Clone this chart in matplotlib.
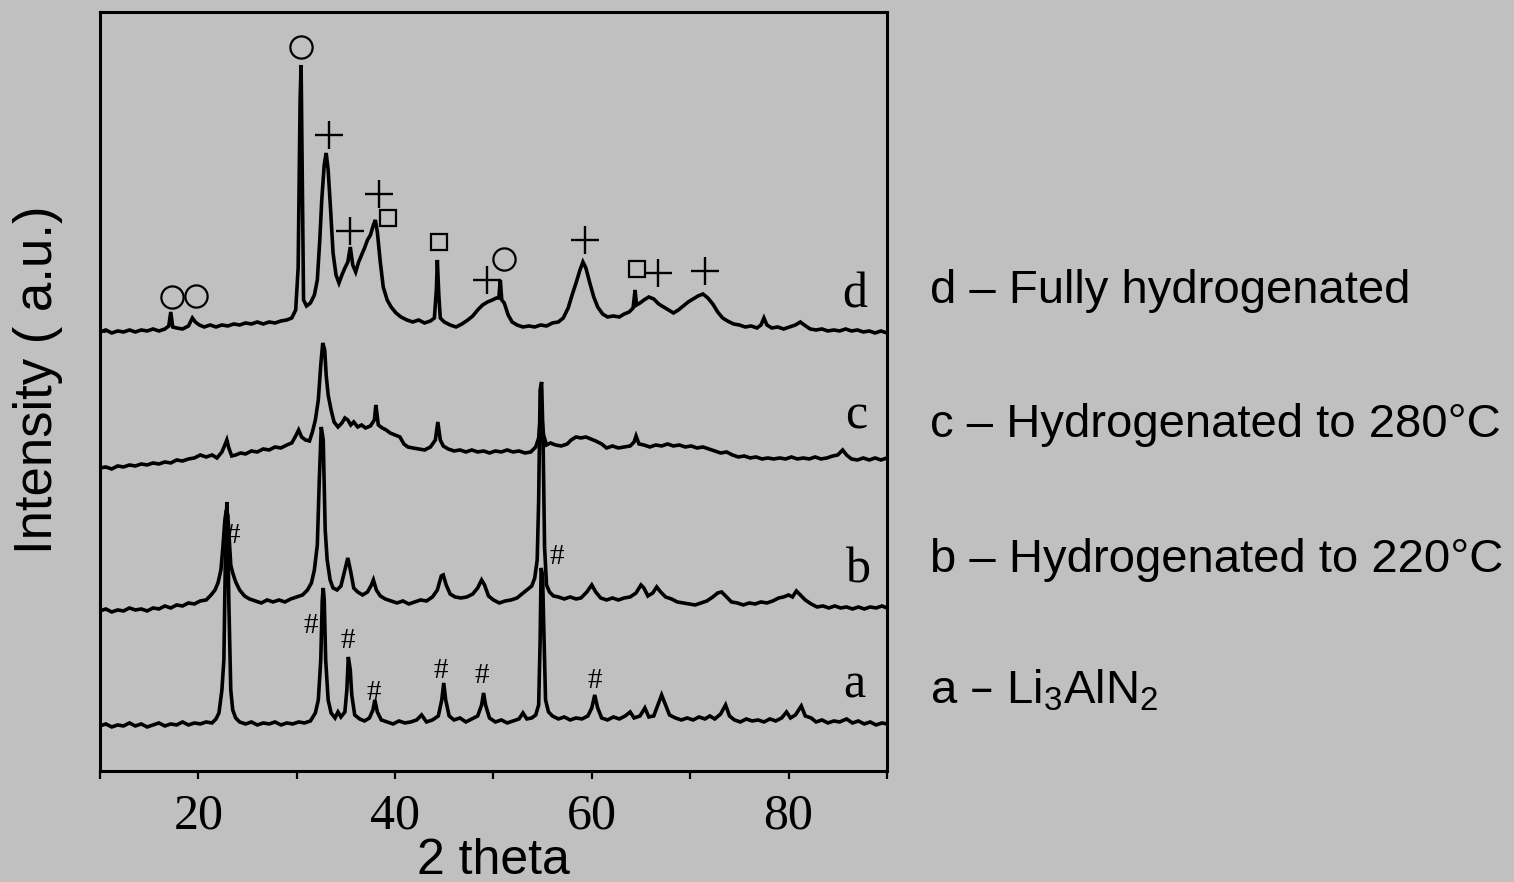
# XRD patterns of Li3AlN2 after hydrogenation
# stacked traces a-d with peak markers

import numpy as np
import matplotlib.pyplot as plt


# a - Li3AlN2
tth_a = [10.0, 10.6, 11.2, 11.8, 12.4, 13.0, 13.6, 14.2, 14.8, 15.4, 16.0, 16.6, 17.2, 17.8, 18.4, 19.0,
         19.6, 20.2, 20.8, 21.4, 21.8, 22.1, 22.4, 22.6, 22.75, 22.9, 23.0, 23.1, 23.3, 23.5, 23.8, 24.2,
         24.8, 25.4, 26.0, 26.6, 27.2, 27.8, 28.4, 29.0, 29.6, 30.2, 30.8, 31.4, 31.9, 32.2, 32.45, 32.6,
         32.7, 32.8, 32.95, 33.2, 33.5, 33.9, 34.2, 34.5, 34.9, 35.1, 35.25, 35.45, 35.6, 35.9, 36.4, 36.9,
         37.4, 37.75, 37.95, 38.2, 38.6, 39.2, 39.8, 40.4, 41.0, 41.6, 42.2, 42.7, 43.2, 43.8, 44.4, 44.75,
         44.95, 45.15, 45.5, 46.0, 46.6, 47.2, 47.8, 48.4, 48.8, 49.0, 49.2, 49.6, 50.2, 50.8, 51.4, 52.0,
         52.6, 53.0, 53.4, 53.9, 54.3, 54.6, 54.75, 54.85, 55.0, 55.1, 55.3, 55.6, 56.0, 56.6, 57.2, 57.8,
         58.4, 59.0, 59.6, 60.0, 60.3, 60.6, 61.0, 61.6, 62.2, 62.8, 63.4, 63.9, 64.3, 64.9, 65.4, 65.8,
         66.3, 66.8, 67.1, 67.5, 67.9, 68.5, 69.1, 69.7, 70.3, 70.9, 71.5, 72.0, 72.5, 73.1, 73.6, 74.0,
         74.5, 75.1, 75.7, 76.3, 76.9, 77.5, 78.1, 78.7, 79.3, 79.8, 80.2, 80.7, 81.3, 81.7, 82.3, 82.8,
         83.4, 84.0, 84.6, 85.2, 85.9, 86.5, 87.1, 87.7, 88.3, 88.9, 89.5, 90.0]
int_a = [45, 47, 44, 46, 45, 48, 45, 47, 44, 46, 48, 45, 47, 46, 49, 46,
         48, 47, 49, 48, 52, 58, 81, 111, 211, 269, 241, 171, 81, 61, 53, 49,
         47, 49, 46, 48, 47, 49, 46, 48, 47, 49, 48, 50, 58, 71, 111, 171,
         183, 171, 111, 71, 58, 53, 59, 54, 59, 81, 114, 101, 76, 56, 52, 50,
         53, 61, 71, 59, 51, 49, 47, 50, 48, 49, 51, 56, 49, 51, 55, 71,
         88, 71, 55, 51, 53, 49, 52, 55, 66, 78, 66, 53, 49, 51, 48, 50,
         52, 58, 52, 53, 56, 66, 131, 203, 196, 151, 71, 59, 55, 52, 54, 51,
         53, 52, 55, 63, 76, 63, 53, 51, 54, 52, 55, 59, 53, 55, 63, 54,
         55, 68, 76, 66, 56, 53, 51, 53, 51, 54, 52, 55, 52, 57, 66, 55,
         51, 49, 52, 50, 51, 49, 52, 50, 53, 59, 53, 56, 65, 55, 53, 49,
         51, 48, 50, 49, 52, 48, 50, 47, 49, 46, 48, 47]

# b - hydrogenated to 220 C
tth_b = [10.0, 10.6, 11.2, 11.8, 12.4, 13.0, 13.6, 14.2, 14.8, 15.4, 16.0, 16.6, 17.2, 17.8, 18.4, 19.0,
         19.6, 20.2, 20.8, 21.3, 21.7, 22.0, 22.3, 22.5, 22.7, 22.85, 23.0, 23.15, 23.3, 23.5, 23.8, 24.2,
         24.7, 25.2, 25.8, 26.4, 27.0, 27.6, 28.2, 28.8, 29.4, 30.0, 30.6, 31.1, 31.5, 31.8, 32.1, 32.3,
         32.5, 32.7, 32.9, 33.1, 33.4, 33.7, 34.1, 34.5, 34.9, 35.2, 35.5, 35.8, 36.2, 36.7, 37.2, 37.6,
         37.8, 38.1, 38.5, 39.0, 39.6, 40.2, 40.8, 41.4, 42.0, 42.6, 43.2, 43.8, 44.3, 44.7, 44.9, 45.2,
         45.6, 46.1, 46.7, 47.3, 47.9, 48.4, 48.8, 49.1, 49.5, 50.0, 50.6, 51.2, 51.8, 52.4, 52.9, 53.4,
         53.9, 54.2, 54.45, 54.6, 54.75, 54.9, 55.05, 55.2, 55.4, 55.7, 56.1, 56.6, 57.2, 57.8, 58.4, 58.9,
         59.5, 60.0, 60.4, 60.9, 61.5, 62.1, 62.7, 63.3, 63.9, 64.5, 65.0, 65.3, 65.7, 66.2, 66.6, 67.0,
         67.5, 68.1, 68.7, 69.3, 69.9, 70.5, 71.1, 71.7, 72.3, 72.8, 73.2, 73.7, 74.2, 74.8, 75.4, 76.0,
         76.6, 77.2, 77.8, 78.4, 79.0, 79.5, 80.0, 80.4, 80.8, 81.2, 81.7, 82.3, 82.9, 83.5, 84.1, 84.7,
         85.3, 85.9, 86.5, 87.1, 87.7, 88.3, 88.9, 89.5, 90.0]
int_b = [160, 162, 159, 161, 160, 163, 161, 162, 160, 163, 162, 165, 163, 166, 165, 168,
         167, 170, 171, 176, 181, 188, 201, 224, 251, 261, 256, 231, 206, 198, 189, 181,
         175, 172, 170, 168, 171, 169, 171, 169, 172, 174, 176, 181, 188, 201, 226, 291,
         344, 331, 241, 211, 191, 183, 181, 185, 201, 213, 199, 183, 179, 176, 179, 186,
         191, 181, 175, 172, 170, 168, 170, 167, 169, 171, 170, 174, 181, 195, 196, 186,
         177, 174, 173, 174, 177, 183, 191, 186, 175, 171, 168, 170, 171, 173, 177, 181,
         185, 193, 211, 271, 381, 389, 331, 224, 186, 179, 175, 174, 172, 174, 172, 173,
         179, 186, 179, 173, 171, 173, 171, 173, 174, 178, 186, 183, 175, 178, 184, 179,
         174, 172, 169, 168, 167, 166, 168, 170, 174, 178, 179, 174, 169, 168, 166, 168,
         167, 169, 168, 170, 173, 174, 176, 174, 180, 176, 171, 167, 164, 165, 163, 165,
         163, 164, 162, 164, 162, 164, 163, 165, 163]

# c - hydrogenated to 280 C
tth_c = [10.0, 10.6, 11.2, 11.8, 12.4, 13.0, 13.6, 14.2, 14.8, 15.4, 16.0, 16.6, 17.2, 17.8, 18.4, 19.0,
         19.6, 20.2, 20.8, 21.4, 21.9, 22.4, 22.7, 22.9, 23.1, 23.4, 23.8, 24.3, 24.8, 25.4, 26.0, 26.6,
         27.2, 27.8, 28.4, 29.0, 29.5, 29.9, 30.2, 30.5, 30.9, 31.3, 31.6, 31.9, 32.2, 32.45, 32.65, 32.85,
         33.0, 33.2, 33.5, 33.8, 34.2, 34.6, 34.9, 35.2, 35.5, 35.8, 36.2, 36.6, 37.0, 37.5, 37.9, 38.05,
         38.3, 38.7, 39.1, 39.5, 40.0, 40.5, 40.9, 41.3, 41.8, 42.4, 43.0, 43.6, 44.1, 44.35, 44.6, 44.9,
         45.4, 46.0, 46.6, 47.2, 47.8, 48.4, 49.0, 49.6, 50.2, 50.8, 51.4, 52.0, 52.6, 53.2, 53.8, 54.3,
         54.6, 54.8, 54.95, 55.1, 55.4, 55.8, 56.3, 56.9, 57.5, 57.9, 58.4, 58.9, 59.4, 59.9, 60.4, 61.0,
         61.5, 62.1, 62.7, 63.3, 63.9, 64.3, 64.5, 64.8, 65.3, 65.9, 66.5, 67.1, 67.7, 68.3, 68.9, 69.5,
         70.1, 70.7, 71.3, 71.9, 72.5, 73.1, 73.7, 74.3, 74.9, 75.5, 76.1, 76.7, 77.3, 77.9, 78.5, 79.1,
         79.7, 80.3, 80.9, 81.5, 82.1, 82.7, 83.3, 83.9, 84.5, 85.0, 85.5, 85.9, 86.4, 87.0, 87.6, 88.2,
         88.8, 89.4, 90.0]
int_c = [303, 304, 302, 305, 304, 306, 305, 307, 306, 308, 307, 309, 308, 311, 310, 312,
         313, 316, 314, 316, 313, 319, 326, 331, 323, 315, 316, 318, 317, 320, 319, 322,
         321, 324, 323, 326, 328, 335, 341, 334, 331, 330, 339, 351, 371, 406, 428, 421,
         396, 376, 361, 349, 344, 348, 353, 351, 346, 349, 344, 346, 343, 345, 351, 366,
         346, 343, 341, 338, 336, 334, 327, 324, 323, 322, 321, 324, 331, 349, 331, 325,
         322, 320, 321, 319, 321, 319, 320, 318, 320, 319, 321, 319, 320, 318, 319, 324,
         333, 359, 351, 336, 326, 328, 326, 325, 327, 331, 334, 333, 334, 332, 330, 327,
         323, 325, 323, 324, 325, 329, 335, 327, 326, 324, 326, 325, 327, 325, 326, 324,
         325, 323, 324, 322, 320, 318, 319, 316, 314, 315, 313, 314, 312, 313, 312, 313,
         312, 314, 312, 313, 312, 314, 312, 313, 315, 316, 321, 316, 312, 311, 313, 311,
         313, 311, 313]

# d - fully hydrogenated
tth_d = [10.0, 10.6, 11.2, 11.8, 12.4, 13.0, 13.6, 14.2, 14.8, 15.4, 16.0, 16.6, 17.0, 17.2, 17.4, 17.8,
         18.4, 19.0, 19.4, 19.7, 20.1, 20.6, 21.2, 21.8, 22.4, 23.0, 23.6, 24.2, 24.8, 25.4, 26.0, 26.6,
         27.2, 27.8, 28.4, 29.0, 29.5, 29.9, 30.15, 30.35, 30.45, 30.6, 30.7, 31.0, 31.4, 31.8, 32.1, 32.35,
         32.55, 32.8, 33.0, 33.2, 33.45, 33.7, 34.0, 34.3, 34.6, 34.9, 35.2, 35.45, 35.7, 36.0, 36.3, 36.6,
         36.9, 37.2, 37.5, 37.8, 38.0, 38.2, 38.5, 38.8, 39.2, 39.6, 40.1, 40.6, 41.2, 41.8, 42.4, 43.0,
         43.6, 44.0, 44.2, 44.3, 44.45, 44.6, 45.0, 45.6, 46.2, 46.8, 47.4, 47.9, 48.4, 48.9, 49.4, 49.9,
         50.3, 50.55, 50.7, 50.85, 51.1, 51.5, 51.9, 52.4, 53.0, 53.6, 54.2, 54.8, 55.4, 56.0, 56.6, 57.1,
         57.6, 58.0, 58.4, 58.8, 59.1, 59.4, 59.8, 60.2, 60.6, 61.1, 61.6, 62.2, 62.8, 63.3, 63.8, 64.2,
         64.4, 64.55, 64.9, 65.3, 65.8, 66.3, 66.8, 67.3, 67.8, 68.3, 68.8, 69.3, 69.8, 70.3, 70.8, 71.3,
         71.8, 72.3, 72.8, 73.3, 73.8, 74.4, 75.0, 75.6, 76.2, 76.8, 77.2, 77.5, 77.8, 78.3, 78.9, 79.5,
         80.1, 80.7, 81.2, 81.6, 82.2, 82.8, 83.4, 84.0, 84.6, 85.2, 85.8, 86.4, 87.0, 87.6, 88.2, 88.8,
         89.4, 90.0]
int_d = [439, 441, 438, 440, 439, 441, 439, 441, 440, 442, 440, 442, 445, 459, 444, 443,
         442, 445, 453, 449, 446, 444, 446, 444, 446, 445, 447, 446, 448, 447, 449, 447,
         449, 448, 450, 451, 453, 461, 503, 671, 706, 571, 471, 465, 468, 476, 491, 531,
         571, 606, 618, 601, 561, 518, 496, 488, 496, 503, 509, 524, 506, 499, 509, 516,
         523, 531, 536, 546, 551, 539, 509, 484, 471, 464, 458, 454, 451, 449, 451, 448,
         450, 453, 481, 511, 476, 453, 449, 446, 444, 447, 451, 455, 461, 466, 469, 471,
         473, 473, 491, 471, 468, 456, 449, 446, 444, 445, 444, 446, 445, 448, 449, 453,
         463, 476, 488, 501, 509, 503, 488, 474, 464, 457, 454, 455, 454, 457, 459, 463,
         481, 466, 468, 471, 474, 472, 467, 464, 461, 458, 461, 465, 469, 472, 475, 477,
         473, 467, 459, 453, 450, 447, 446, 444, 445, 443, 446, 453, 446, 443, 444, 442,
         444, 446, 449, 446, 442, 441, 442, 440, 441, 440, 442, 440, 441, 439, 440, 438,
         440, 438]

# phase markers (2 theta, height)
circ_x = [17.3, 19.8, 30.4, 51.1]
circ_y = [474, 475, 724, 512]
plus_x = [33.3, 35.4, 38.4, 49.3, 59.3, 66.7, 71.5]
plus_y = [636, 540, 577, 491, 531, 498, 500]
sq_x = [39.3, 44.5, 64.6]
sq_y = [553, 529, 502]
hash_x = [23.5, 31.4, 35.2, 37.8, 44.6, 48.8, 56.4, 60.3]
hash_y = [228, 138, 123, 71, 93, 88, 207, 83]

curve_tags = ['a', 'b', 'c', 'd']
tag_x = [86.7, 87.1, 86.9, 86.7]
tag_y = [73, 188, 342, 463]

legend_text = ['a \u2013 Li$_\\mathregular{3}$AlN$_\\mathregular{2}$',
               'b \u2013 Hydrogenated to 220\u00b0C',
               'c \u2013 Hydrogenated to 280\u00b0C',
               'd \u2013 Fully hydrogenated']
legend_y = [0.2029, 0.3515, 0.5045, 0.6565]

bg = '#c0c0c0'
serif = 'Liberation Serif'
sans = 'Liberation Sans'

fig = plt.figure(figsize=(15.14, 8.82), dpi=100, facecolor=bg)
ax = fig.add_axes([0.0660, 0.1259, 0.5198, 0.8605], facecolor=bg)

for tx, ty in [(tth_a, int_a), (tth_b, int_b), (tth_c, int_c), (tth_d, int_d)]:
    ax.plot(tx, ty, color='black', lw=2.6, solid_joinstyle='miter')

ax.plot(circ_x, circ_y, 'o', ms=16, mfc='none', mec='black', mew=1.6)
ax.plot(plus_x, plus_y, '+', ms=20, mec='black', mew=1.7)
ax.plot(sq_x, sq_y, 's', ms=12, mfc='none', mec='black', mew=1.6)
for hx, hy in zip(hash_x, hash_y):
    ax.text(hx, hy, '#', fontsize=21, family=serif, ha='center', va='baseline')

for t, tx, ty in zip(curve_tags, tag_x, tag_y):
    ax.text(tx, ty, t, fontsize=36, family=serif, ha='center', va='baseline')

ax.set_xlim(10, 90)
ax.set_ylim(0, 759)
ax.set_xticks([20, 40, 60, 80])
ax.set_xticks(np.arange(10, 91, 10), minor=True)
ax.tick_params(axis='x', which='both', direction='out', length=6, width=1.6, pad=10)
ax.tick_params(axis='x', which='major', labelsize=36)
for lab in ax.get_xticklabels():
    lab.set_family(serif)
ax.set_yticks([int_c[0], int_d[0]])
ax.set_yticklabels([])
ax.tick_params(axis='y', direction='in', length=4, width=1.2)
for s in ax.spines.values():
    s.set_linewidth(2.2)

ax.set_xlabel('2 theta', fontsize=36, family=sans, labelpad=-1)
ax.set_ylabel('Intensity ( a.u.)', fontsize=38, family=sans)
ax.yaxis.set_label_coords(-0.047, 0.515)

for txt, ly in zip(legend_text, legend_y):
    fig.text(0.6143, ly, txt, fontsize=34, family=sans, va='baseline')

fig.savefig('out.png', dpi=100, facecolor=bg)
